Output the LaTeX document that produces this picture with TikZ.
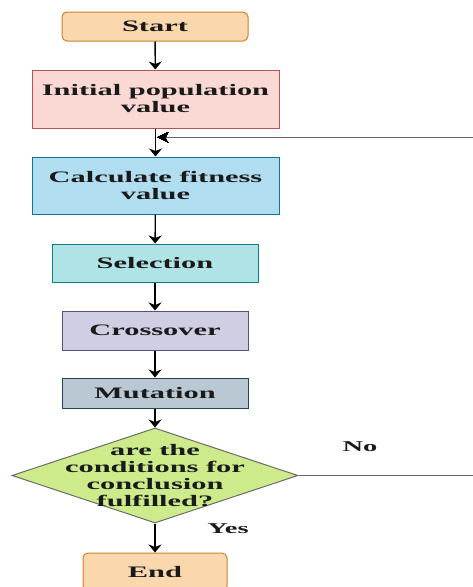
\documentclass[tikz,border=0pt]{standalone}
\usepackage{fontspec}
\setmainfont[FakeStretch=1.9]{Liberation Serif}
\usetikzlibrary{arrows.meta,shapes.geometric,positioning}
\usepackage{xcolor}

\definecolor{termfill}{HTML}{FAD7AC}
\definecolor{termline}{HTML}{C8832A}
\definecolor{initfill}{HTML}{FAD9D5}
\definecolor{initline}{HTML}{B85450}
\definecolor{calcfill}{HTML}{B1DDF0}
\definecolor{calcline}{HTML}{10739E}
\definecolor{selfill}{HTML}{B0E3E6}
\definecolor{selline}{HTML}{0E8088}
\definecolor{crossfill}{HTML}{D0CEE2}
\definecolor{crossline}{HTML}{56517E}
\definecolor{mutfill}{HTML}{BAC8D3}
\definecolor{mutline}{HTML}{23445D}
\definecolor{decfill}{HTML}{CDEB8B}
\definecolor{decline}{HTML}{6B6B6B}
\definecolor{txtcol}{HTML}{1A1A1A}

\begin{document}
\begin{tikzpicture}[x=1pt, y=-1pt,
  every node/.style={font=\bfseries\fontsize{16}{17}\selectfont, text=txtcol, align=center, inner sep=0pt},
  box/.style={draw, line width=1pt, rectangle},
  term/.style={box, rounded corners=5pt, fill=termfill, draw=termline},
  decision/.style={draw=decline, fill=decfill, line width=1pt, diamond},
  flow/.style={line width=1.4pt, -{Stealth[length=8pt,width=13pt,inset=2.5pt]}},
  back/.style={line width=0.9pt, draw=black!60},
  lbl/.style={font=\bfseries\fontsize{15}{16}\selectfont}]

\useasboundingbox (0,0) rectangle (473,587);
\clip (0,0) rectangle (473,587);

% boxes
\node[term, minimum width=186pt, minimum height=29pt] (start) at (155,26.5) {Start};
\node[box, fill=initfill, draw=initline, minimum width=247pt, minimum height=58pt] (init) at (155.5,99) {Initial population\\value};
\node[box, fill=calcfill, draw=calcline, minimum width=247pt, minimum height=57pt] (calc) at (155.5,185.5) {Calculate fitness\\value};
\node[box, fill=selfill, draw=selline, minimum width=206pt, minimum height=38pt] (sel) at (155,263) {Selection};
\node[box, fill=crossfill, draw=crossline, minimum width=186pt, minimum height=39pt] (cross) at (155,330.5) {Crossover};
\node[box, fill=mutfill, draw=mutline, minimum width=186pt, minimum height=30pt] (mut) at (155,393) {Mutation};
\node[decision, minimum width=286pt, minimum height=95pt,
  label={[align=center]center:are the\\conditions for\\conclusion\\fulfilled?}] (dec) at (155,475.5) {};
\node[term, minimum width=144pt, minimum height=38pt] (end) at (155,572) {End};

% labels
\node[lbl] (no) at (360,447) {No};
\node[lbl] (yes) at (228,529) {Yes};

% arrows
\draw[flow] (start) -- (init);
\draw[flow] (init) -- (calc);
\draw[flow] (calc) -- (sel);
\draw[flow] (sel) -- (cross);
\draw[flow] (cross) -- (mut);
\draw[flow] (mut) -- (dec);
\draw[flow] (dec) -- (end);

% loop back
\coordinate (join) at (157,137);
\coordinate (rtop) at (480,137);
\coordinate (rbot) at (480,475.5);
\draw[back] (dec.east) -- (rbot) -- (rtop);
\draw[back] (rtop) -- (join);
\draw[line width=0pt, fill=black] (join) -- ++(11,-5) -- ++(-2.5,5) -- ++(2.5,5) -- cycle;

\end{tikzpicture}
\end{document}
